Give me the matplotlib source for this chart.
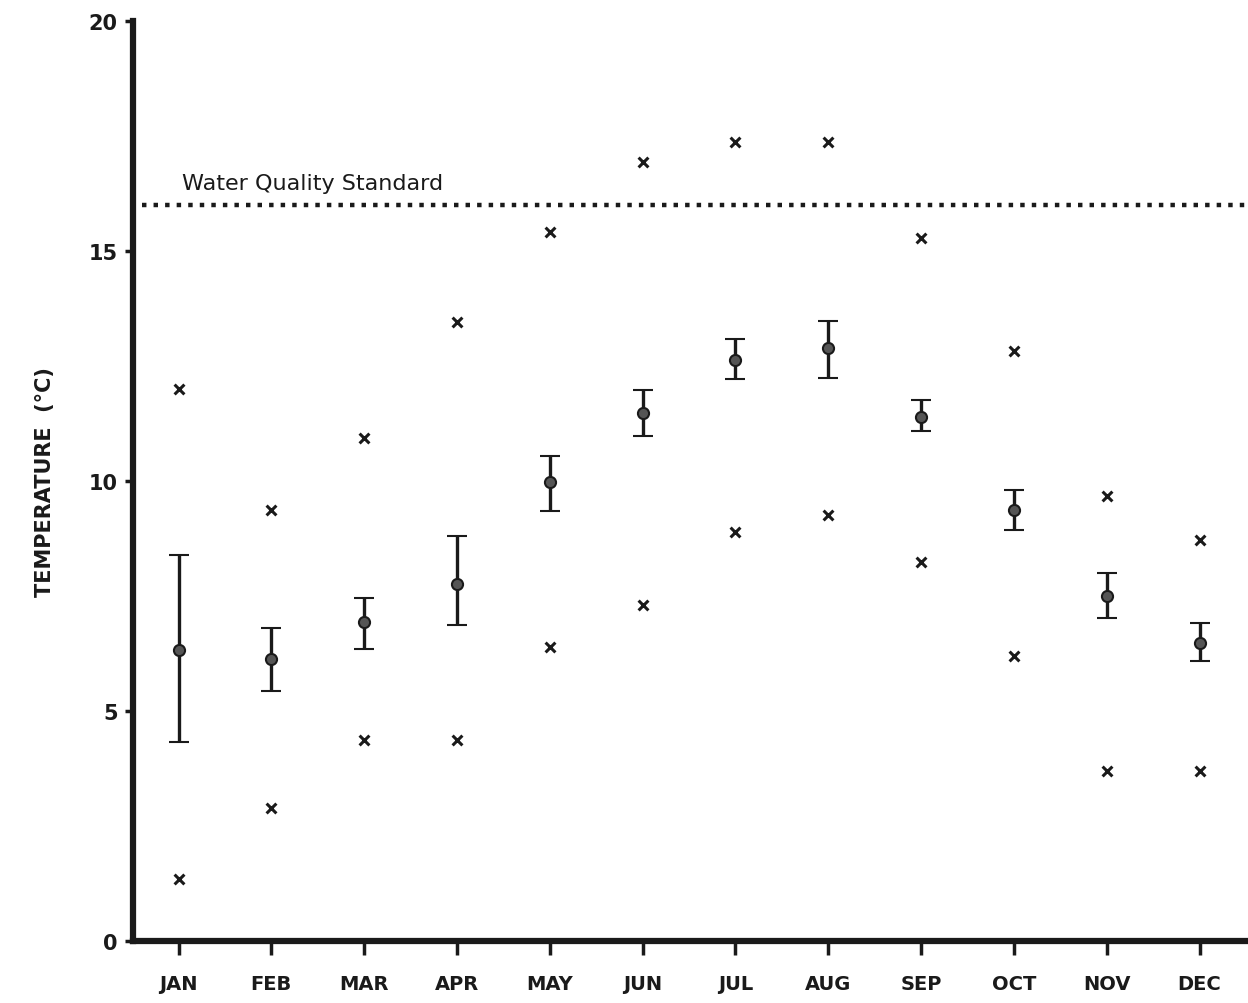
import matplotlib
matplotlib.use("Agg")
import matplotlib.pyplot as plt
import numpy as np

months = ["JAN", "FEB", "MAR", "APR", "MAY", "JUN", "JUL", "AUG", "SEP", "OCT", "NOV", "DEC"]
mean_temp = [6.33, 6.13, 6.94, 7.75, 9.98, 11.48, 12.62, 12.90, 11.40, 9.37, 7.49, 6.48]
err_upper = [8.38, 6.81, 7.45, 8.80, 10.55, 11.97, 13.08, 13.47, 11.75, 9.80, 7.99, 6.92]
err_lower = [4.32, 5.44, 6.35, 6.86, 9.34, 10.98, 12.21, 12.23, 11.09, 8.93, 7.03, 6.09]
max_temp = [11.99, 9.37, 10.94, 13.45, 15.41, 16.94, 17.38, 17.38, 15.28, 12.82, 9.67, 8.71]
min_temp = [1.35, 2.88, 4.37, 4.37, 6.40, 7.31, 8.89, 9.26, 8.23, 6.20, 3.69, 3.69]
standard = 16.0
y_ticks = [0, 5, 10, 15, 20]

ink = "#1a1a1a"
fig = plt.figure(figsize=(12.48, 10.04), dpi=100)
ax = fig.add_axes([0.1066, 0.0618, 0.891, 0.9163])

x = np.arange(len(months))
mean = np.array(mean_temp)
yerr = np.array([mean - np.array(err_lower), np.array(err_upper) - mean])

ax.errorbar(x, mean, yerr=yerr, fmt="o", color=ink, ecolor=ink, elinewidth=2.4,
            capsize=7, capthick=2.8, markersize=8, markerfacecolor="#555555",
            markeredgecolor=ink, markeredgewidth=1.5, zorder=3)
ax.scatter(x, max_temp, marker="x", s=50, color=ink, linewidths=2.2, zorder=3)
ax.scatter(x, min_temp, marker="x", s=50, color=ink, linewidths=2.2, zorder=3)

ax.axhline(standard, xmin=0.008, xmax=1.0, color=ink, linestyle=(0, (1.0, 1.6)),
           linewidth=3.2, zorder=2)
ax.text(0.04, standard + 0.25, "Water Quality Standard", fontsize=16,
        color=ink, ha="left", va="bottom", family="DejaVu Sans")

ax.set_xlim(-0.49, 11.49)
ax.set_ylim(0, 20)
ax.set_xticks(x)
ax.set_xticklabels(months, fontsize=14, fontweight="bold", color=ink)
ax.set_yticks(y_ticks)
ax.set_yticklabels([str(t) for t in y_ticks], fontsize=15, fontweight="bold", color=ink)
ax.tick_params(axis="x", direction="out", length=10, width=2.5, pad=14, colors=ink)
ax.tick_params(axis="y", direction="out", length=6, width=2.5, pad=5, colors=ink)

for side in ["top", "right"]:
    ax.spines[side].set_visible(False)
for side in ["left", "bottom"]:
    ax.spines[side].set_linewidth(4.5)
    ax.spines[side].set_color(ink)

ax.set_ylabel("TEMPERATURE  (°C)", fontsize=15, fontweight="bold", color=ink, labelpad=24)

fig.savefig("out.png", dpi=100, facecolor="white")
